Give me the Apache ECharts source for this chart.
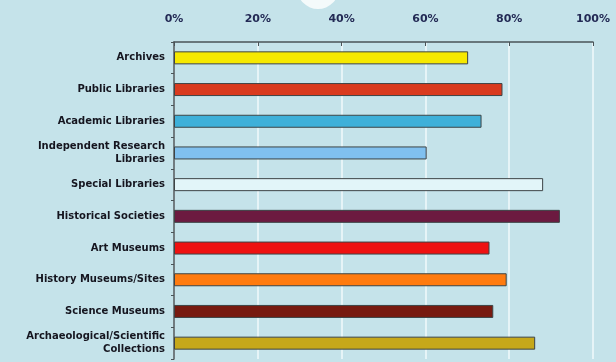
<!DOCTYPE html>
<html>
<head>
<meta charset="utf-8">
<script src="https://cdn.jsdelivr.net/npm/echarts@6/dist/echarts.min.js"></script>
<style>
  html, body { margin: 0; padding: 0; background: #c5e3ea; }
  #chart { width: 616px; height: 362px; }
</style>
</head>
<body>
<div id="chart"></div>
<script>
const categories = [
  'Archives',
  'Public Libraries',
  'Academic Libraries',
  'Independent Research\nLibraries',
  'Special Libraries',
  'Historical Societies',
  'Art Museums',
  'History Museums/Sites',
  'Science Museums',
  'Archaeological/Scientific\nCollections'
]
const values = [70.2, 78.4, 73.4, 60.3, 88.1, 92.1, 75.3, 79.4, 76.2, 86.2]
const barColors = [
  '#f6e900', '#d93a1e', '#3eb0d9', '#80c0ef', '#e2f5f9',
  '#6c1a40', '#ee1111', '#ff7b0f', '#771a10', '#c6a81a'
]
const tickLabels = ['0%', '20%', '40%', '60%', '80%', '100%']

const chart = echarts.init(document.getElementById('chart'))

const options = {
  backgroundColor: '#c5e3ea',
  animation: false,
  graphic: [{
    type: 'circle',
    shape: { cx: 318, cy: -12, r: 21 },
    style: { fill: '#f4fafb' }
  }],
  grid: {
    left: 174,
    right: 23,
    top: 42,
    bottom: 3
  },
  xAxis: {
    type: 'value',
    position: 'top',
    min: 0,
    max: 100,
    interval: 20,
    axisLine: { show: true, lineStyle: { color: '#4a5458', width: 1.5 } },
    axisTick: { show: true, inside: true, length: 4, lineStyle: { color: '#4a5458' } },
    axisLabel: {
      formatter: (v) => tickLabels[v / 20],
      color: '#232a55',
      fontFamily: 'DejaVu Sans',
      fontWeight: 'bold',
      fontSize: 11,
      margin: 17
    },
    splitLine: { show: true, lineStyle: { color: '#e6f4f7', width: 2 } }
  },
  yAxis: {
    type: 'category',
    inverse: true,
    data: categories,
    axisLine: { show: true, lineStyle: { color: '#4a5458', width: 1.5 } },
    axisTick: { show: true, length: 3, lineStyle: { color: '#4a5458' } },
    axisLabel: {
      color: '#15151f',
      fontFamily: 'DejaVu Sans',
      fontWeight: 'bold',
      fontSize: 10,
      lineHeight: 13,
      margin: 9
    }
  },
  series: [{
    type: 'bar',
    barWidth: 13,
    data: values.map((v, i) => ({
      value: v,
      itemStyle: { color: barColors[i] }
    })),
    itemStyle: {
      borderColor: '#3d4446',
      borderWidth: 1
    }
  }]
}
chart.setOption(options)
</script>
</body>
</html>
